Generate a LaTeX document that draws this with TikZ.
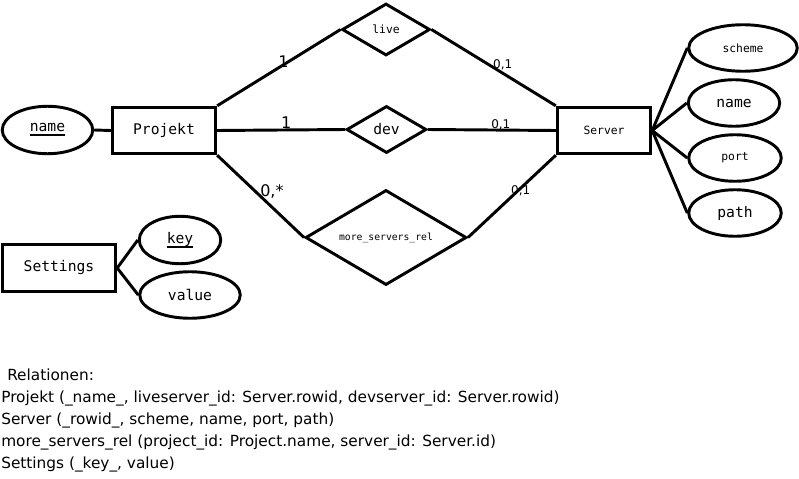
\documentclass[tikz,border=0pt]{standalone}
\usepackage{fontspec}
\setmainfont{DejaVu Sans}
\newfontfamily\ermono{DejaVu Sans Mono}
\usepackage{tikz}
\usetikzlibrary{shapes.geometric}
\newcommand\ulkey[1]{\setbox0\hbox{#1}\rlap{\rule[-3.3pt]{\wd0}{1.7pt}}\box0}
\begin{document}
\begin{tikzpicture}[x=0.75pt,y=-0.75pt]
\tikzstyle{every node}=[font=\ermono\fontsize{11}{13}\selectfont]
\tikzstyle{entity}=[draw, line width=2.2pt, rectangle, inner sep=0pt]
\tikzstyle{attrib}=[draw, line width=2.2pt, ellipse, inner sep=0pt]
\tikzstyle{rel}=[draw, line width=2.2pt, diamond, inner sep=0pt, aspect=1.6]
\tikzstyle{small}=[font=\ermono\fontsize{8.5}{10}\selectfont]
\tikzstyle{tiny}=[font=\ermono\fontsize{7.3}{9}\selectfont]
\tikzstyle{card}=[font=\fontsize{12}{14}\selectfont, inner sep=0pt]
\tikzstyle{cardsmall}=[font=\fontsize{9}{11}\selectfont, inner sep=0pt]
\tikzstyle{link}=[line width=2.2pt]
\useasboundingbox (0,0) rectangle (799,478);
\node [entity, minimum width=77.6pt, minimum height=34.9pt] (projekt) at (164,130.5) {Projekt};
\node [entity, small, minimum width=70.1pt, minimum height=34.9pt] (server) at (604,130.5) {Server};
\node [entity, minimum width=85.1pt, minimum height=35.6pt] (settings) at (59,268) {Settings};
\node [attrib, minimum width=67.9pt, minimum height=35.6pt] (pname) at (47.5,130) {\ulkey{name}};
\node [attrib, small, minimum width=81.4pt, minimum height=34.9pt] (scheme) at (743,48) {scheme};
\node [attrib, minimum width=68.6pt, minimum height=34.9pt] (sname) at (734,103) {name};
\node [attrib, small, minimum width=69.4pt, minimum height=34.9pt] (port) at (735,158) {port};
\node [attrib, minimum width=69.4pt, minimum height=34.9pt] (path) at (735,213) {path};
\node [attrib, minimum width=61.1pt, minimum height=35.6pt] (key) at (180,240) {\ulkey{key}};
\node [attrib, minimum width=75.4pt, minimum height=34.9pt] (value) at (190,295) {value};
\node [rel, small, minimum width=66pt, minimum height=39pt] (live) at (386,29.5) {live};
\node [rel, minimum width=60pt, minimum height=35.3pt] (dev) at (386.5,129.5) {dev};
\node [rel, tiny, minimum width=120.8pt, minimum height=71.3pt] (msr) at (386,237.5) {more\_servers\_rel};
\draw [link] (pname.east) -- (projekt.west);
\draw [link] (projekt.north east) -- node [card, pos=0.537, yshift=2pt] {1} (live.west);
\draw [link] (live.east) -- node [cardsmall, pos=0.573, anchor=base, yshift=3.5pt] {0,1} (server.north west);
\draw [link] (projekt.east) -- node [card, pos=0.54, anchor=base, yshift=1pt] {1} (dev.west);
\draw [link] (dev.east) -- node [cardsmall, pos=0.57, anchor=base, yshift=1pt] {0,1} (server.west);
\draw [link] (projekt.south east) -- node [card, pos=0.63, yshift=12pt] {0,*} (msr.west);
\draw [link] (msr.east) -- node [cardsmall, pos=0.6, yshift=-2pt] {0,1} (server.south west);
\draw [link] (server.east) -- (scheme.west);
\draw [link] (server.east) -- (sname.west);
\draw [link] (server.east) -- (port.west);
\draw [link] (server.east) -- (path.west);
\draw [link] (settings.east) -- (key.west);
\draw [link] (settings.east) -- (value.west);
\node [font=\fontsize{11.5}{16.5}\selectfont, align=left, anchor=north west, inner sep=0pt] (relationen) at (1,369)
{\hspace*{4.5pt}Relationen:\\
Projekt (\_name\_, liveserver\_id: Server.rowid, devserver\_id: Server.rowid)\\
Server (\_rowid\_, scheme, name, port, path)\\
more\_servers\_rel (project\_id: Project.name, server\_id: Server.id)\\
Settings (\_key\_, value)};
\end{tikzpicture}
\end{document}
